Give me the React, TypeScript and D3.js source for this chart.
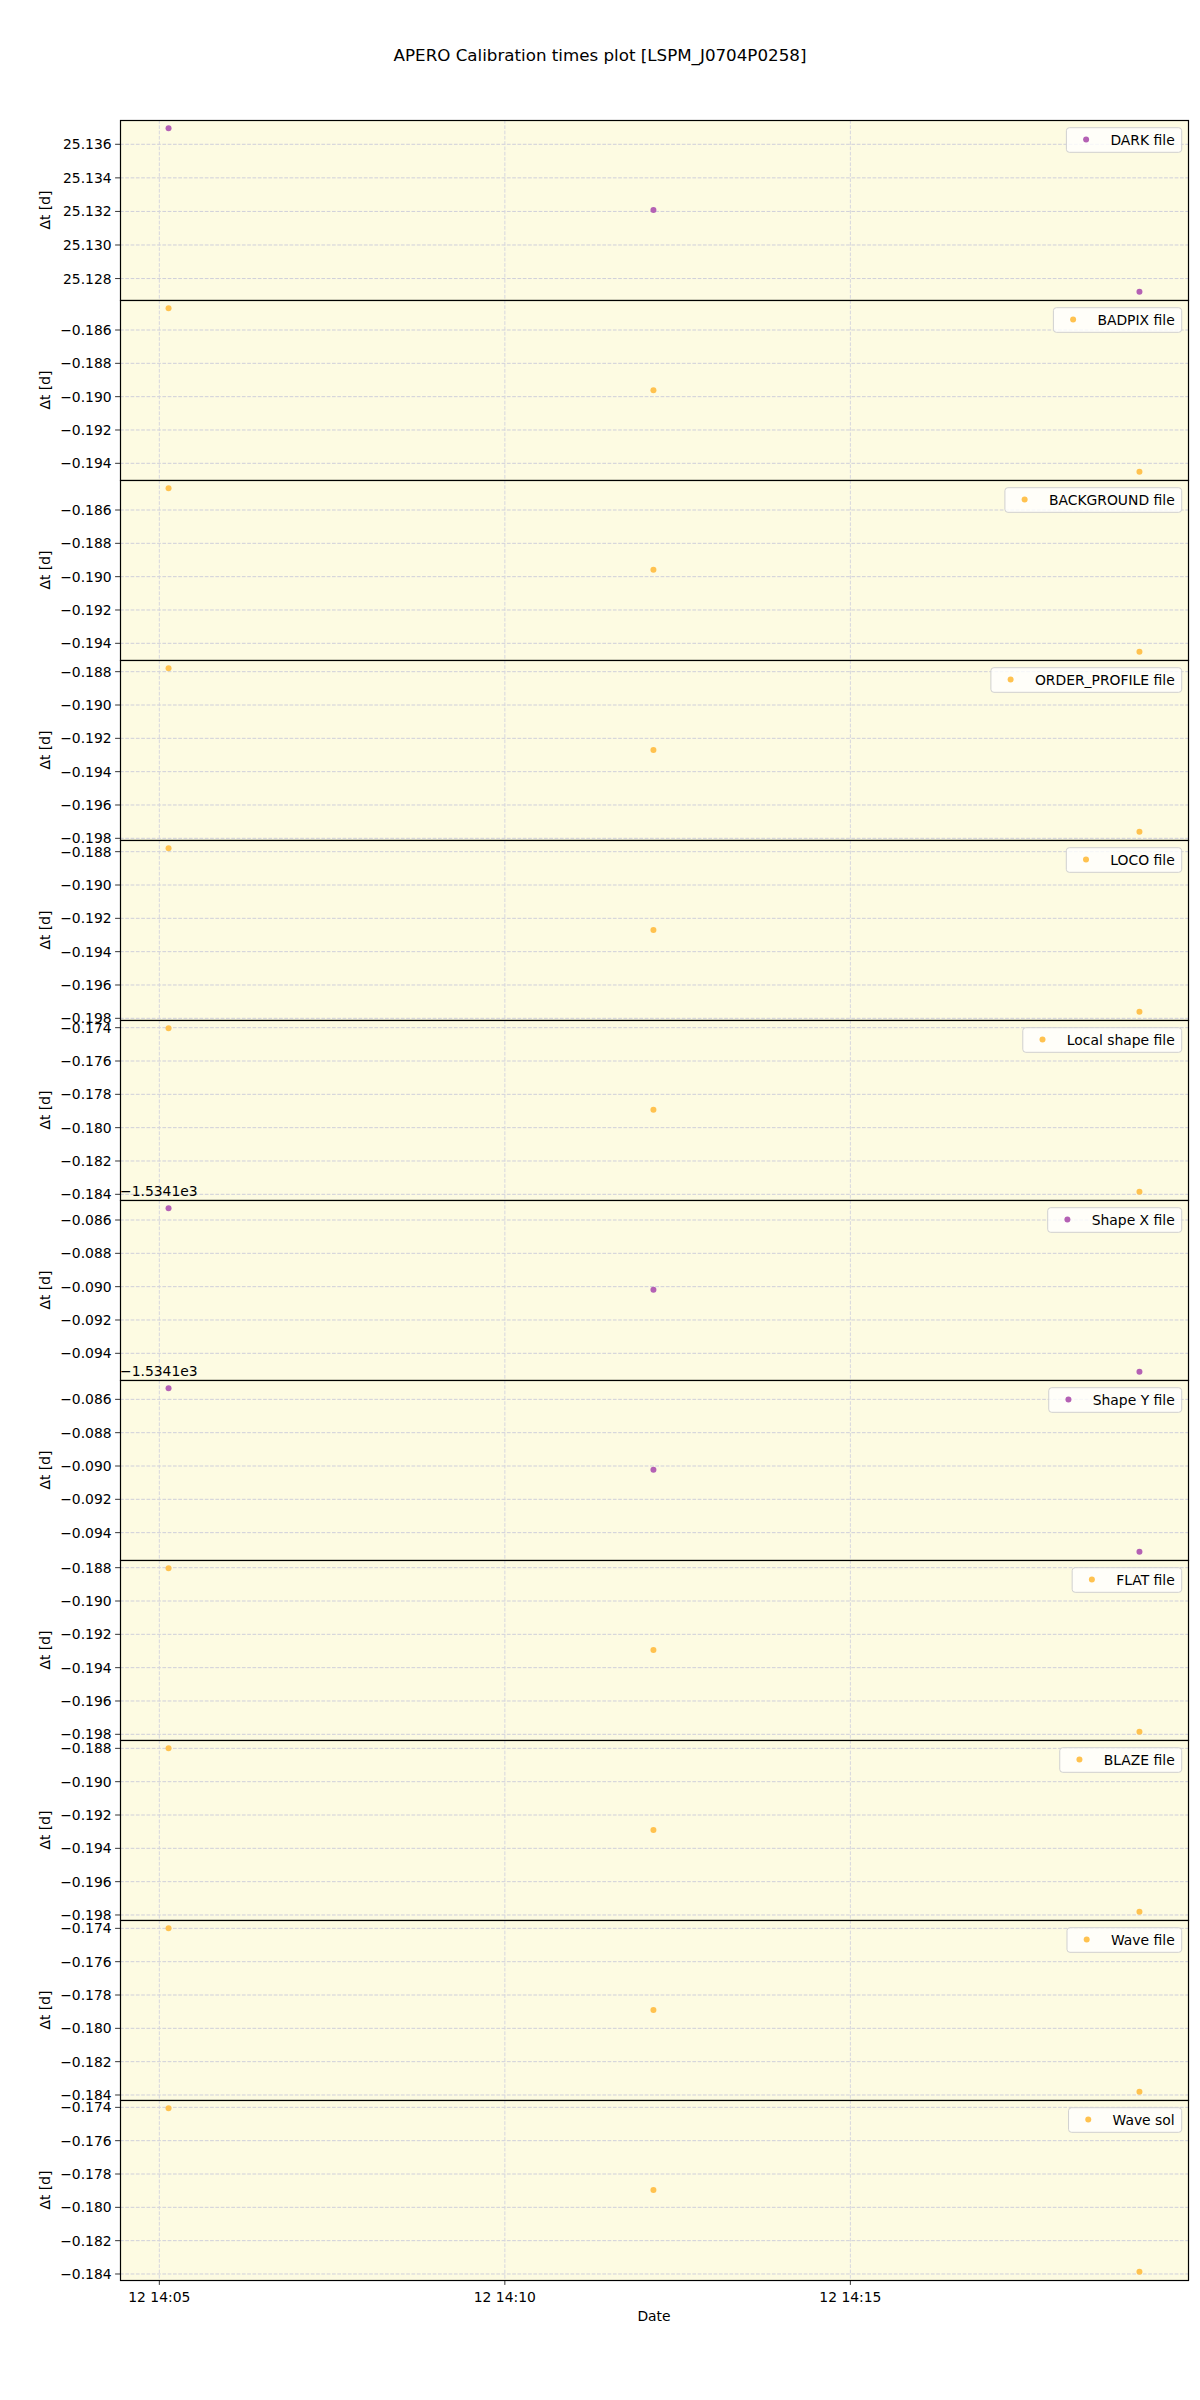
import React, { useRef, useEffect } from "react";
import * as d3 from "d3";

// observation times of the three calibration files (day 12)
const times = ["2021-01-12T14:05:08", "2021-01-12T14:12:09", "2021-01-12T14:19:11"];

const labels = [
  "DARK file",
  "BADPIX file",
  "BACKGROUND file",
  "ORDER_PROFILE file",
  "LOCO file",
  "Local shape file",
  "Shape X file",
  "Shape Y file",
  "FLAT file",
  "BLAZE file",
  "Wave file",
  "Wave sol",
];

const colorKeys = [
  "purple", "orange", "orange", "orange", "orange", "orange",
  "purple", "purple", "orange", "orange", "orange", "orange",
];

// Δt [d] for each panel, one value per time
const darkVals = [25.13696, 25.13209, 25.12721];
const badpixVals = [-0.18469, -0.18962, -0.19451];
const backgroundVals = [-0.18469, -0.18958, -0.19451];
const orderProfileVals = [-0.18779, -0.1927, -0.19761];
const locoVals = [-0.18779, -0.1927, -0.19761];
const localShapeVals = [-0.17403, -0.17893, -0.18385];
const shapeXVals = [-1534.18529, -1534.19018, -1534.19511];
const shapeYVals = [-1534.18533, -1534.19022, -1534.19515];
const flatVals = [-0.18803, -0.19294, -0.19785];
const blazeVals = [-0.18799, -0.1929, -0.19781];
const waveFileVals = [-0.17399, -0.1789, -0.18381];
const waveSolVals = [-0.17405, -0.17896, -0.18387];

const panelValues = [
  darkVals, badpixVals, backgroundVals, orderProfileVals, locoVals, localShapeVals,
  shapeXVals, shapeYVals, flatVals, blazeVals, waveFileVals, waveSolVals,
];

// offset used by the axis formatter (matplotlib style), 0 = none
const panelOffsets = [0, 0, 0, 0, 0, 0, -1534.1, -1534.1, 0, 0, 0, 0];
const offsetLabel = "\u22121.5341e3";

const xTickLabels = ["12 14:05", "12 14:10", "12 14:15"];
const xTickTimes = ["2021-01-12T14:05:00", "2021-01-12T14:10:00", "2021-01-12T14:15:00"];

const App: React.FC = () => {
  const ref = useRef<HTMLDivElement>(null);

  useEffect(() => {
    if (!ref.current) return;
    const W = 1200;
    const H = 2400;
    const left = 120;
    const right = 1188;
    const top = 120;
    const panelH = 180;
    const font = "DejaVu Sans, sans-serif";
    const colors: Record<string, string> = { purple: "#b461b4", orange: "#ffc24f" };

    const svg = d3
      .select(ref.current)
      .append("svg")
      .attr("width", W)
      .attr("height", H)
      .style("font-family", font);

    svg.append("rect").attr("width", W).attr("height", H).attr("fill", "white");

    svg
      .append("text")
      .attr("x", 600)
      .attr("y", 61)
      .attr("text-anchor", "middle")
      .attr("font-size", 16.7)
      .text("APERO Calibration times plot [LSPM_J0704P0258]");

    const dates = times.map((t) => new Date(t));
    const t0 = +dates[0];
    const t1 = +dates[dates.length - 1];
    const pad = (t1 - t0) * 0.05;
    const x = d3
      .scaleTime()
      .domain([new Date(t0 - pad), new Date(t1 + pad)])
      .range([left, right]);
    const xTicks = xTickTimes.map((t) => new Date(t));

    const fmt = d3.format(".3f");
    const overlay = svg.append("g");

    panelValues.forEach((vals, i) => {
      const off = panelOffsets[i];
      const rel = vals.map((v) => v - off);
      const [lo, hi] = d3.extent(rel) as [number, number];
      const yp = (hi - lo) * 0.05;
      const y0 = top + i * panelH;
      const y = d3
        .scaleLinear()
        .domain([lo - yp, hi + yp])
        .range([y0 + panelH, y0]);

      const g = svg.append("g");
      g.append("rect")
        .attr("x", left)
        .attr("y", y0)
        .attr("width", right - left)
        .attr("height", panelH)
        .attr("fill", "#fdfbe2");

      const yTicks = y.ticks(5);
      // grid
      g.selectAll(".hg")
        .data(yTicks)
        .enter()
        .append("line")
        .attr("x1", left)
        .attr("x2", right)
        .attr("y1", (d) => y(d))
        .attr("y2", (d) => y(d))
        .attr("stroke", "#cfcfda")
        .attr("stroke-dasharray", "3.7,1.6");
      g.selectAll(".vg")
        .data(xTicks)
        .enter()
        .append("line")
        .attr("x1", (d) => x(d))
        .attr("x2", (d) => x(d))
        .attr("y1", y0)
        .attr("y2", y0 + panelH)
        .attr("stroke", "#d6d6de")
        .attr("stroke-dasharray", "3.7,1.6");

      // y ticks
      yTicks.forEach((t) => {
        g.append("line")
          .attr("x1", left - 4.9)
          .attr("x2", left)
          .attr("y1", y(t))
          .attr("y2", y(t))
          .attr("stroke", "black")
          .attr("stroke-width", 0.8);
        g.append("text")
          .attr("x", left - 8.4)
          .attr("y", y(t) + 5)
          .attr("text-anchor", "end")
          .attr("font-size", 13.9)
          .text(fmt(t));
      });

      g.append("text")
        .attr("transform", `translate(50,${y0 + panelH / 2}) rotate(-90)`)
        .attr("text-anchor", "middle")
        .attr("font-size", 13.9)
        .text("\u0394t [d]");

      // points
      const color = colors[colorKeys[i]];
      g.selectAll("circle")
        .data(rel)
        .enter()
        .append("circle")
        .attr("cx", (_, j) => x(dates[j]))
        .attr("cy", (d) => y(d))
        .attr("r", 3)
        .attr("fill", color);

      // frame
      g.append("rect")
        .attr("x", left + 0.5)
        .attr("y", y0 + 0.5)
        .attr("width", right - left)
        .attr("height", panelH)
        .attr("fill", "none")
        .attr("stroke", "black")
        .attr("stroke-width", 1.2);

      // legend
      const lg = g.append("g");
      const box = lg.append("rect");
      const txt = lg
        .append("text")
        .attr("y", y0 + 20 + 5)
        .attr("font-size", 13.9)
        .text(labels[i]);
      const tw = (txt.node() as SVGTextElement).getComputedTextLength();
      const bw = tw + 51;
      const bx = right - 6.3 - bw;
      txt.attr("x", bx + 44);
      box
        .attr("x", bx)
        .attr("y", y0 + 7.7)
        .attr("width", bw)
        .attr("height", 24.6)
        .attr("rx", 3)
        .attr("fill", "white")
        .attr("fill-opacity", 0.8)
        .attr("stroke", "#d0d0d0");
      lg.append("circle")
        .attr("cx", bx + 19.7)
        .attr("cy", y0 + 19.5)
        .attr("r", 3)
        .attr("fill", color);

      if (off !== 0) {
        overlay
          .append("text")
          .attr("x", left)
          .attr("y", y0 - 4)
          .attr("font-size", 13.9)
          .text(offsetLabel);
      }

      // bottom x axis
      if (i === panelValues.length - 1) {
        const yb = y0 + panelH;
        xTicks.forEach((t, k) => {
          g.append("line")
            .attr("x1", x(t))
            .attr("x2", x(t))
            .attr("y1", yb)
            .attr("y2", yb + 4.9)
            .attr("stroke", "black")
            .attr("stroke-width", 0.8);
          g.append("text")
            .attr("x", x(t))
            .attr("y", yb + 21.5)
            .attr("text-anchor", "middle")
            .attr("font-size", 13.9)
            .text(xTickLabels[k]);
        });
        g.append("text")
          .attr("x", (left + right) / 2)
          .attr("y", yb + 40.5)
          .attr("text-anchor", "middle")
          .attr("font-size", 13.9)
          .text("Date");
      }
    });

    overlay.raise();

    return () => {
      svg.remove();
    };
  }, []);

  return <div ref={ref} style={{ position: "absolute", left: 0, top: 0 }}></div>;
};

export default App;
